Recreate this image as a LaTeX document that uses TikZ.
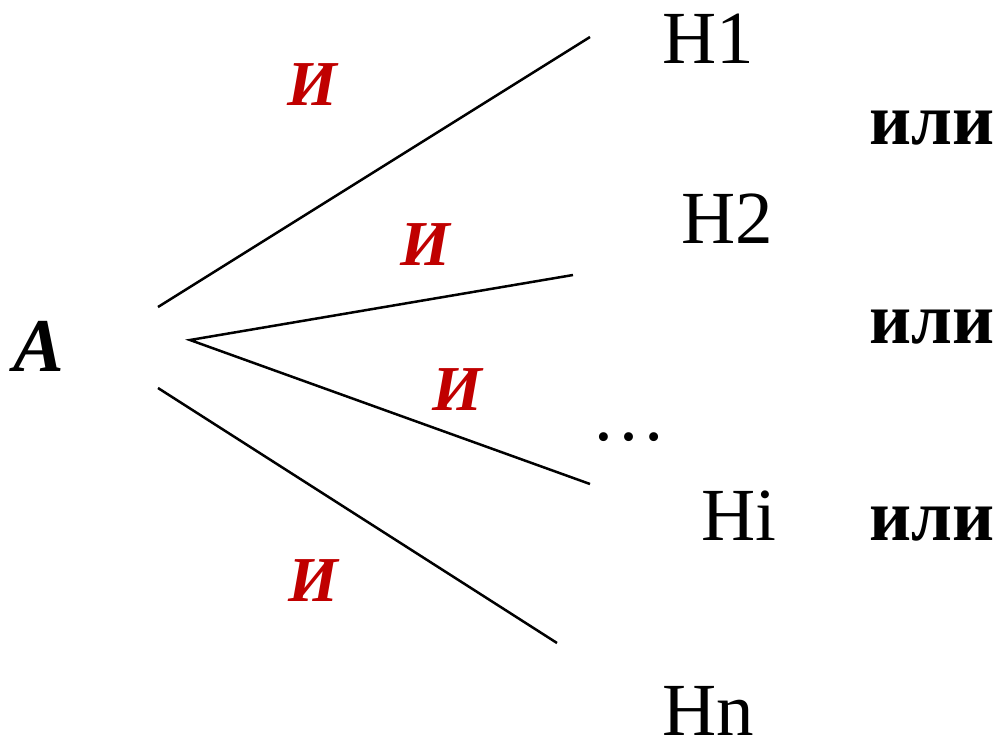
\documentclass[tikz,border=0pt]{standalone}
\usepackage{fontspec}
\setmainfont{Liberation Serif}
\definecolor{andred}{RGB}{192,0,0}
\tikzset{
  lbl/.style={inner sep=0pt, anchor=base west, font=\fontsize{75}{90}\selectfont},
  orlbl/.style={inner sep=0pt, anchor=base west, font=\fontsize{73}{88}\selectfont\bfseries},
  andlbl/.style={inner sep=0pt, anchor=base west, text=andred, font=\fontsize{64}{80}\selectfont\bfseries\itshape},
  branch/.style={line width=2.5pt, line cap=butt}
}
\begin{document}
\begin{tikzpicture}[x=1pt,y=-1pt]
\useasboundingbox (0,0) rectangle (1000,742);
% source
\node[lbl, font=\fontsize{76}{90}\selectfont\bfseries\itshape] (A) at (13,371) {A};
% branch points
\coordinate (s1) at (158,307);
\coordinate (s0) at (190,340);
\coordinate (s4) at (158,388);
\coordinate (e1) at (590,37);
\coordinate (e2) at (573,275);
\coordinate (e3) at (590,484);
\coordinate (e4) at (557,643);
\draw[branch] (s1) -- (e1);
\draw[branch] (e2) -- (s0) -- (e3);
\draw[branch] (s4) -- (e4);
% hypotheses
\node[lbl] (H1) at (662,63) {H1};
\node[lbl] (H2) at (681,243) {H2};
\node[lbl] (dots) at (591,440) {\dots};
\node[lbl] (Hi) at (701,540) {Hi};
\node[lbl] (Hn) at (662,735) {Hn};
% or
\node[orlbl] (or1) at (869,144) {или};
\node[orlbl] (or2) at (869,343) {или};
\node[orlbl] (or3) at (869,540) {или};
% and
\node[andlbl] (and1) at (287,105) {И};
\node[andlbl] (and2) at (400,265) {И};
\node[andlbl] (and3) at (432,410) {И};
\node[andlbl] (and4) at (288,601) {И};
\end{tikzpicture}
\end{document}
